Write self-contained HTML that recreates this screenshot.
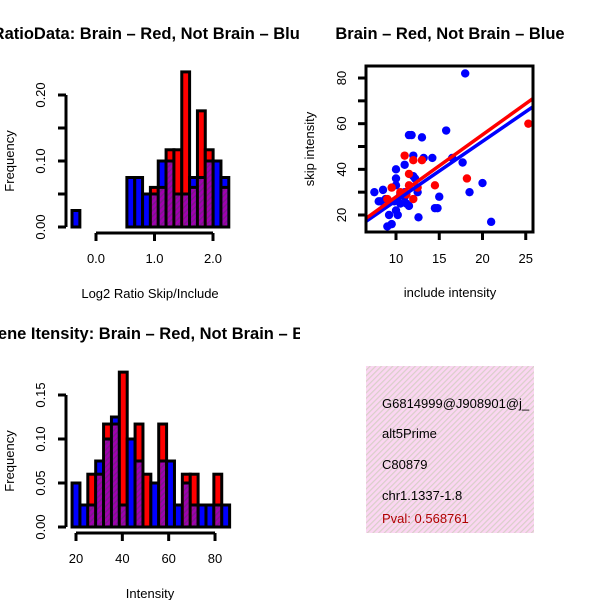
<!DOCTYPE html>
<html><head><meta charset="utf-8"><style>
html,body{margin:0;padding:0;background:#fff;}
svg{display:block;font-family:"Liberation Sans",sans-serif;}
</style></head><body>
<svg id="c" width="600" height="600" viewBox="0 0 600 600">
<defs>
<pattern id="purp" patternUnits="userSpaceOnUse" width="4" height="4" patternTransform="rotate(45)">
<rect width="4" height="4" fill="#a000b0"/><rect width="1.5" height="4" fill="#7a1a8a"/>
</pattern>
<pattern id="pink" patternUnits="userSpaceOnUse" width="4" height="4" patternTransform="rotate(45)">
<rect width="4" height="4" fill="#fbd6f2"/><rect width="1.2" height="4" fill="#d9cfc9"/>
</pattern>
<clipPath id="leftclip"><rect x="0" y="0" width="300" height="600"/></clipPath>
</defs>
<g clip-path="url(#leftclip)">
<text x="309" y="39" font-size="16.5" font-weight="bold" text-anchor="end">Log2 RatioData: Brain – Red, Not Brain – Blue</text>
<text x="328" y="339" font-size="16.5" font-weight="bold" text-anchor="end">Exon/Gene Itensity: Brain – Red, Not Brain – Blue</text>
</g>
<text x="450" y="39" font-size="16.5" font-weight="bold" text-anchor="middle">Brain – Red, Not Brain – Blue</text>
<g>
<rect x="366" y="366" width="168" height="167" fill="url(#pink)"/>
<text x="382" y="408" font-size="13">G6814999@J908901@j_</text>
<text x="382" y="438" font-size="13">alt5Prime</text>
<text x="382" y="469" font-size="13">C80879</text>
<text x="382" y="500" font-size="13">chr1.1337-1.8</text>
<text x="382" y="523" font-size="13" fill="#b00000">Pval: 0.568761</text>
</g>
</svg>
<script>
// Top-left histogram: log2 ratio
const ratioBinStart = -0.41, ratioBinWidth = 0.134;
const ratioBlue = [0.025,0,0,0,0,0,0,0.075,0.075,0.05,0.05,0.10,0.10,0.05,0.05,0.075,0.075,0.10,0.10,0.075];
const ratioRed  = [0,0,0,0,0,0,0,0,0,0,0.06,0.06,0.117,0.117,0.235,0.06,0.176,0.117,0,0.06];
const ratioXTicks = [0.0,1.0,2.0];
const ratioXTickLabels = ["0.0","1.0","2.0"];
const ratioYTicks = [0,0.05,0.10,0.15,0.20];
const ratioYTickLabels = ["0.00","","0.10","","0.20"];
// Bottom-left histogram: intensity
const intBinStart = 18.3, intBinWidth = 3.4;
const intBlue = [0.05,0.025,0.025,0.075,0.10,0.125,0.025,0.10,0.075,0,0.05,0.075,0.075,0.025,0.05,0.025,0.025,0.025,0.025,0.025];
const intRed  = [0,0,0.06,0.06,0.117,0.117,0.176,0,0.117,0.06,0,0.117,0,0,0.06,0.06,0,0,0.06,0];
const intXTicks = [20,40,60,80];
const intXTickLabels = ["20","40","60","80"];
const intYTicks = [0,0.05,0.10,0.15];
const intYTickLabels = ["0.00","0.05","0.10","0.15"];
// Scatter
const blueX = [7.5,8.2,8.5,8.8,9.2,9.5,9.0,10,10,10,10,10.2,10.5,11,11,11.2,11.5,11.8,12,12,13,13.2,12.6,14.5,14.8,15,15.8,16.5,18,17.7,18.5,20,21,11,9.8,8,12.5,11.5,10.5,12.2,14.2];
const blueY = [30,26,31,27,20,16,15,40,36,33,22,20,25,42,30,25,55,55,46,37,54,45,19,23,23,28,57,45,82,43,30,34,17,28,26,26,30,24,29,36,45];
const redX = [11,11.5,12,9.5,10.5,11.5,12,12.5,14.5,18.2,25.3,9,13,11.2];
const redY = [46,38,44,32,30,33,27,32,33,36,60,27,44,29];
const redFit = [0.75, 2.72];   // intercept, slope
const blueFit = [0.24, 2.6];
const scatXTicks = [10,15,20,25];
const scatYTicks = [20,30,40,50,60,70,80];
const scatYTickLabels = ["20","","40","","60","","80"];

const svg = document.getElementById('c');
const NS = 'http://www.w3.org/2000/svg';
function mk(tag, attrs, parent){const e=document.createElementNS(NS,tag);for(const k in attrs)e.setAttribute(k,attrs[k]);(parent||svg).appendChild(e);return e;}

function hist(prefix, start, width, blue, red, xs, ys, xt, xtl, yt, ytl, xlab, ylabY){
  const g = mk('g',{});
  
  
  for(let i=0;i<blue.length;i++){
    const x0 = xs(start+i*width), x1 = xs(start+(i+1)*width);
    const b = blue[i], r = red[i];
    const hi = Math.max(b,r), lo = Math.min(b,r);
    const bar = mk('rect',{x:x0,y:ys(hi),width:x1-x0,height:ys(0)-ys(hi),fill:b>=r?'#0000ff':'#ff0000',stroke:'#000','stroke-width':3},g);
    
    
    if(lo>0){
      const ov = mk('rect',{x:x0+1.5,y:ys(lo),width:x1-x0-3,height:ys(0)-ys(lo)-1.5,fill:'url(#purp)'},g);
      
      
      mk('line',{x1:x0,x2:x1,y1:ys(lo),y2:ys(lo),stroke:'#000','stroke-width':3},g);
    }
  }
  const ya = mk('g',{},g);
  
  
  mk('line',{x1:66,x2:66,y1:ys(yt[0]),y2:ys(yt[yt.length-1]),stroke:'#000','stroke-width':3},ya);
  yt.forEach((v,i)=>{
    mk('line',{x1:58,x2:66,y1:ys(v),y2:ys(v),stroke:'#000','stroke-width':3},ya);
    if(ytl[i]){const t=mk('text',{x:0,y:0,'font-size':13,'text-anchor':'middle',transform:`translate(45,${ys(v)}) rotate(-90)`},ya);t.textContent=ytl[i];}
  });
  const yl = mk('text',{'font-size':13,'text-anchor':'middle',transform:`translate(14,${ylabY}) rotate(-90)`},g);
  yl.textContent='Frequency';
  
  
  const xa = mk('g',{},g);
  
  
  const ay = ys(0)+6;
  mk('line',{x1:xs(xt[0]),x2:xs(xt[xt.length-1]),y1:ay,y2:ay,stroke:'#000','stroke-width':3},xa);
  xt.forEach((v,i)=>{
    mk('line',{x1:xs(v),x2:xs(v),y1:ay,y2:ay+8,stroke:'#000','stroke-width':3},xa);
    const t=mk('text',{x:xs(v),y:ay+30,'font-size':13,'text-anchor':'middle'},xa);t.textContent=xtl[i];
  });
  const xl = mk('text',{x:150,y:ay+65,'font-size':13,'text-anchor':'middle'},g);
  xl.textContent=xlab;
  
  
}
hist('ratio', ratioBinStart, ratioBinWidth, ratioBlue, ratioRed,
  v=>96+v*58.5, v=>227-v*660, ratioXTicks, ratioXTickLabels, ratioYTicks, ratioYTickLabels, 'Log2 Ratio Skip/Include', 161);
hist('intensity', intBinStart, intBinWidth, intBlue, intRed,
  v=>76+(v-20)*2.317, v=>527-v*880, intXTicks, intXTickLabels, intYTicks, intYTickLabels, 'Intensity', 461);

const sx = v=>396+(v-10)*8.65, sy = v=>215-(v-20)*2.283;
const sg = mk('g',{});


const cp = mk('clipPath',{id:'sclip'},sg); mk('rect',{x:366,y:66,width:167,height:166},cp);
const pts = mk('g',{'clip-path':'url(#sclip)'},sg);
blueX.forEach((x,i)=>{const c=mk('circle',{cx:sx(x),cy:sy(blueY[i]),r:4.2,fill:'#0000ff'},pts);
  
  });
redX.forEach((x,i)=>{const c=mk('circle',{cx:sx(x),cy:sy(redY[i]),r:4.2,fill:'#ff0000'},pts);
  
  });
[[blueFit,'#0000ff','blue-fit-line'],[redFit,'#ff0000','red-fit-line']].forEach(([f,col,nm])=>{
  const l=mk('line',{x1:sx(6.5),x2:sx(26),y1:sy(f[0]+f[1]*6.5),y2:sy(f[0]+f[1]*26),stroke:col,'stroke-width':3.5},pts);
  
  
});
mk('rect',{x:366,y:66,width:167,height:166,fill:'none',stroke:'#000','stroke-width':3},sg);
scatXTicks.forEach(v=>{
  mk('line',{x1:sx(v),x2:sx(v),y1:232,y2:240,stroke:'#000','stroke-width':3},sg);
  const t=mk('text',{x:sx(v),y:263,'font-size':13,'text-anchor':'middle'},sg);t.textContent=String(v);
});
scatYTicks.forEach((v,i)=>{
  mk('line',{x1:358,x2:366,y1:sy(v),y2:sy(v),stroke:'#000','stroke-width':3},sg);
  if(scatYTickLabels[i]){const t=mk('text',{'font-size':13,'text-anchor':'middle',transform:`translate(346,${sy(v)}) rotate(-90)`},sg);t.textContent=scatYTickLabels[i];}
});
const sxl=mk('text',{x:450,y:297,'font-size':13,'text-anchor':'middle'},sg);sxl.textContent='include intensity';


const syl=mk('text',{'font-size':13,'text-anchor':'middle',transform:'translate(314,149) rotate(-90)'},sg);syl.textContent='skip intensity';


</script>
</body></html>
